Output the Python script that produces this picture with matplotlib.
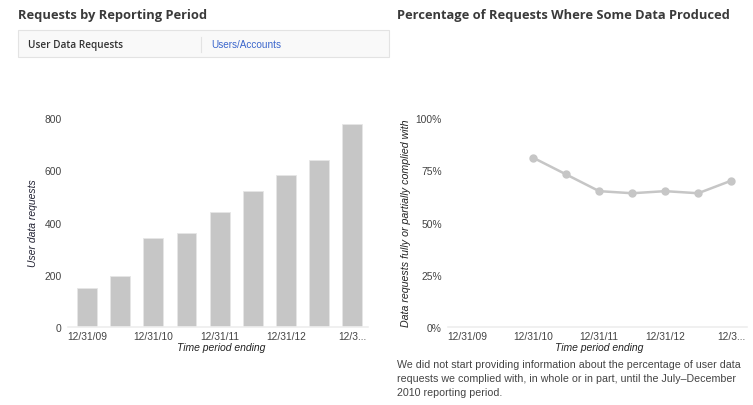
import matplotlib.pyplot as plt
import matplotlib.patches as patches
from matplotlib.lines import Line2D
import numpy as np

periods = ['12/31/09', '6/30/10', '12/31/10', '6/30/11', '12/31/11',
           '6/30/12', '12/31/12', '6/30/13', '12/31/13']
requests = [151, 197, 342, 358, 440, 520, 580, 641, 778]
# percentage only reported from 12/31/10 on
complied = [None, None, 81, 73, 65, 64, 65, 64, 70]
tick_labels = ['12/31/09', '', '12/31/10', '', '12/31/11', '', '12/31/12', '', '12/3...']

W, H = 753, 406
BODY = 'Liberation Sans'
HEAD = 'Open Sans'
TXT = '#444444'
GRAY = '#c6c6c6'

def fx(px):
    return px / W

def fy(py):
    return 1 - py / H

fig = plt.figure(figsize=(W / 100, H / 100), dpi=100, facecolor='white')

# headers
fig.text(fx(18), fy(15), 'Requests by Reporting Period', fontsize=9.3, fontweight='bold',
         family=HEAD, color='#3a3a3a', va='center', ha='left')
fig.text(fx(397), fy(15), 'Percentage of Requests Where Some Data Produced', fontsize=9.3,
         fontweight='bold', family=HEAD, color='#3a3a3a', va='center', ha='left')

# tab box
fig.patches.append(patches.Rectangle((fx(18), fy(58)), fx(371), 27 / H, transform=fig.transFigure,
                                     facecolor='#f9f9f9', edgecolor='#e3e3e3', lw=0.8))
fig.lines.append(Line2D([fx(201), fx(201)], [fy(38), fy(53)], transform=fig.transFigure,
                        color='#e3e3e3', lw=0.8))
fig.text(fx(28), fy(45.5), 'User Data Requests', fontsize=7.2, fontweight='semibold', family=HEAD,
         color='#333333', va='center', ha='left')
fig.text(fx(211), fy(45.5), 'Users/Accounts', fontsize=7.2, family=BODY, color='#3b66cc',
         va='center', ha='left')

x = np.arange(len(periods))

def style(ax):
    for s in ['top', 'right', 'left']:
        ax.spines[s].set_visible(False)
    ax.spines['bottom'].set_color('#eeeeee')
    ax.spines['bottom'].set_linewidth(1.2)
    ax.tick_params(length=0, labelsize=7.4, labelcolor=TXT)
    ax.tick_params(axis='y', pad=4.5)
    ax.tick_params(axis='x', pad=3)
    ax.set_xlim(-0.58, 8.48)
    ax.set_xticks(x)
    ax.set_xticklabels(tick_labels)
    for lab in ax.get_xticklabels() + ax.get_yticklabels():
        lab.set_family(BODY)

# left chart
ax1 = fig.add_axes([fx(68), 78 / H, fx(300), 209 / H])
ax1.bar(x, requests, width=0.6, color=GRAY, edgecolor='#e6e6e6', lw=0.6, zorder=2)
ax1.set_ylim(0, 800)
ax1.set_yticks([0, 200, 400, 600, 800])
style(ax1)
fig.text(fx(33), fy(223), 'User data requests', rotation=90, fontsize=7.5, style='italic',
         family=BODY, color='#222233', va='center', ha='center')
fig.text(fx(221), fy(348), 'Time period ending', fontsize=7.5, style='italic',
         family=BODY, color='#222222', va='center', ha='center')

# right chart
ax2 = fig.add_axes([fx(448), 78 / H, fx(299), 209 / H])
yv = np.array([np.nan if v is None else v for v in complied], dtype=float)
ax2.plot(x, yv, color=GRAY, lw=1.8, marker='o', ms=5, mfc=GRAY, mec=GRAY, zorder=3)
ax2.set_ylim(0, 100)
ax2.set_yticks([0, 25, 50, 75, 100])
ax2.set_yticklabels(['0%', '25%', '50%', '75%', '100%'])
style(ax2)
fig.text(fx(406), fy(223), 'Data requests fully or partially complied with', rotation=90,
         fontsize=7.7, style='italic', family=BODY, color='#222222', va='center', ha='center')
fig.text(fx(599), fy(348), 'Time period ending', fontsize=7.5, style='italic',
         family=BODY, color='#222222', va='center', ha='center')

# footnote
note = ['We did not start providing information about the percentage of user data',
        'requests we complied with, in whole or in part, until the July\u2013December',
        '2010 reporting period.']
for i, line in enumerate(note):
    fig.text(fx(397), fy(365 + i * 14), line, fontsize=7.65, family=BODY, color=TXT,
             va='center', ha='left')

fig.savefig('out.png', dpi=100, facecolor='white')
